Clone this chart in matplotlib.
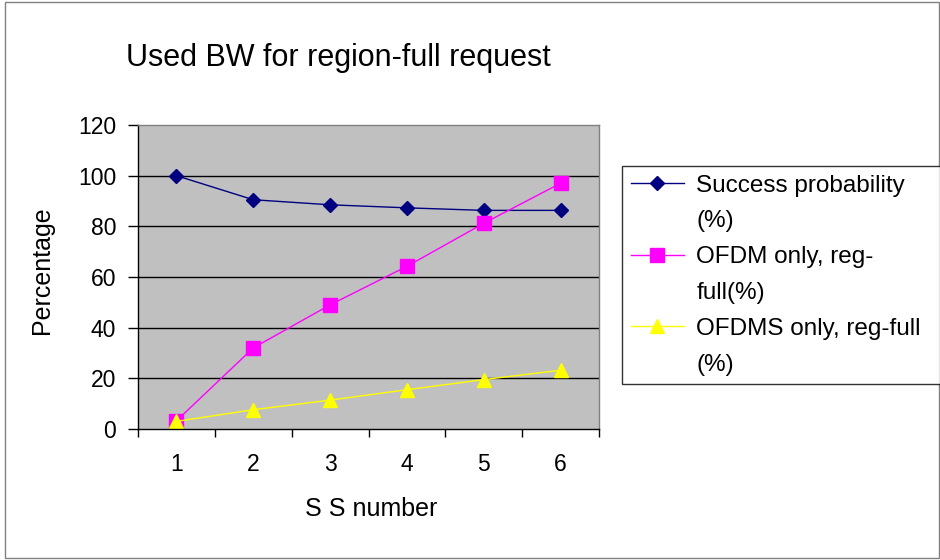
import matplotlib
matplotlib.use("Agg")
import matplotlib.pyplot as plt
from matplotlib.patches import Rectangle
from matplotlib.lines import Line2D

plt.rcParams['font.family'] = ['Liberation Sans', 'DejaVu Sans']

categories = ["1", "2", "3", "4", "5", "6"]
success = [100, 90.5, 88.5, 87.3, 86.3, 86.3]
ofdm = [3.2, 32, 49, 64.2, 81.2, 97]
ofdms = [3, 7.6, 11.4, 15.5, 19.5, 23.2]
yticks = [0, 20, 40, 60, 80, 100, 120]
labels = [["Success probability", "(%)"],
          ["OFDM only, reg-", "full(%)"],
          ["OFDMS only, reg-full", "(%)"]]

W, H = 940, 560
fig = plt.figure(figsize=(W / 100, H / 100), dpi=100)
fig.patch.set_facecolor("white")
fig.add_artist(Rectangle((5 / W, 2 / H), (W - 6) / W, (H - 4) / H, transform=fig.transFigure,
                         fill=False, edgecolor="#808080", linewidth=1))

ax = fig.add_axes([138 / W, (H - 429) / H, (599 - 138) / W, (429 - 125) / H])
ax.set_facecolor("#C0C0C0")
x = list(range(1, len(categories) + 1))

l1, = ax.plot(x, success, color="#000080", marker="D", markersize=7, linewidth=1,
              markerfacecolor="#000080", markeredgecolor="#000080")
l2, = ax.plot(x, ofdm, color="#FF00FF", marker="s", markersize=10, linewidth=1,
              markerfacecolor="#FF00FF", markeredgecolor="#FF00FF")
l3, = ax.plot(x, ofdms, color="#FFFF00", marker="^", markersize=10, linewidth=1,
              markerfacecolor="#FFFF00", markeredgecolor="#FFFF00")

ax.set_xlim(0.5, len(categories) + 0.5)
ax.set_ylim(0, 120)
ax.set_yticks(yticks)
ax.set_yticklabels([str(v) for v in yticks], fontsize=16.5)
for v in yticks[1:-1]:
    ax.axhline(v, color="#000000", linewidth=1, zorder=0.5)

ax.set_xticks([i + 0.5 for i in range(0, len(categories) + 1)])
ax.set_xticklabels([])
ax.set_xticks(x, minor=True)
ax.set_xticklabels(categories, minor=True, fontsize=16.5)
ax.tick_params(axis="x", which="major", direction="out", length=5.8, width=1, color="black")
ax.tick_params(axis="x", which="minor", length=0, pad=17)
ax.tick_params(axis="y", direction="out", length=7.2, width=1, pad=8.4)

for s in ["top", "right"]:
    ax.spines[s].set_color("#808080")
    ax.spines[s].set_linewidth(1)
for s in ["left", "bottom"]:
    ax.spines[s].set_color("black")
    ax.spines[s].set_linewidth(1)

ax.set_xlabel("S S number", fontsize=18)
ax.xaxis.set_label_coords(0.505, -0.224)
ax.set_ylabel("Percentage", fontsize=18)
ax.yaxis.set_label_coords(-0.182, 0.523)

fig.text(126 / W, 1 - 66 / H, "Used BW for region-full request", fontsize=22,
         ha="left", va="baseline")

handles, texts = [], []
for line, lab in zip([l1, l2, l3], labels):
    handles.append(line)
    texts.append(lab[0])
    for extra in lab[1:]:
        handles.append(Line2D([], [], linestyle="none", marker=None))
        texts.append(extra)

leg = fig.legend(handles, texts, loc="upper left",
                 bbox_to_anchor=(622 / W, 1 - 166 / H, (960 - 622) / W, 0), mode="expand",
                 fontsize=17.5, frameon=True,
                 fancybox=False, edgecolor="black", handlelength=2.2, handletextpad=0.5,
                 borderpad=0.35, labelspacing=0.57, borderaxespad=0)
leg.get_frame().set_linewidth(1)

fig.savefig("out.png", dpi=100)
